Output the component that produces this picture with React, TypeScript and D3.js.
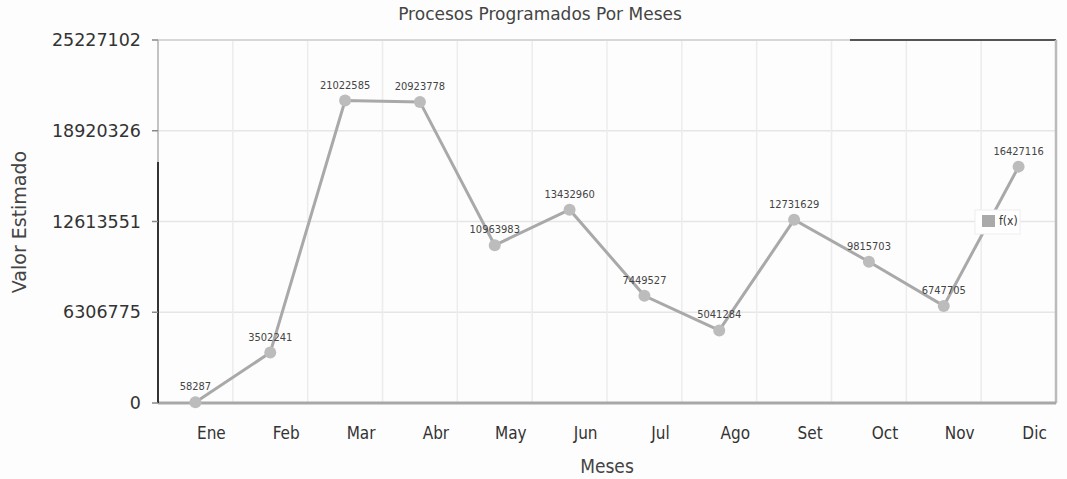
import React from "react";
import * as d3 from "d3";

const months = ["Ene", "Feb", "Mar", "Abr", "May", "Jun", "Jul", "Ago", "Set", "Oct", "Nov", "Dic"];
const values = [58287, 3502241, 21022585, 20923778, 10963983, 13432960, 7449527, 5041284, 12731629, 9815703, 6747705, 16427116];
const yTicks = [0, 6306775, 12613551, 18920326, 25227102];
const title = "Procesos Programados Por Meses";
const yTitle = "Valor Estimado";
const xTitle = "Meses";
const seriesName = "f(x)";

const W = 1067, H = 479;
const M = { left: 158, right: 1056, top: 40, bottom: 403 };

export default function App() {
  const x = d3.scaleBand<string>().domain(months).range([M.left, M.right]);
  const y = d3.scaleLinear().domain([0, 25227102]).range([M.bottom, M.top]);
  const cx = (m: string) => (x(m) as number) + x.bandwidth() / 2;
  const line = d3.line<number>().x((_, i) => cx(months[i])).y((d) => y(d));
  const font = "'DejaVu Sans Condensed', 'DejaVu Sans', sans-serif";
  const wide = "'DejaVu Sans', sans-serif";

  return (
    <svg width={W} height={H} style={{ position: "absolute", left: 0, top: 0, background: "#fff" }} fontFamily={font}>
      <rect x={0} y={0} width={W} height={H} fill="#fdfdfd" />
      {/* grid */}
      {yTicks.map((t) => (
        <line key={"h" + t} x1={M.left} x2={M.right} y1={y(t)} y2={y(t)} stroke="#e6e6e6" strokeWidth={1.5} />
      ))}
      {months.slice(1).map((m) => (
        <line key={"v" + m} x1={x(m) as number} x2={x(m) as number} y1={M.top} y2={M.bottom} stroke="#ececec" strokeWidth={1.5} />
      ))}
      {/* border */}
      <rect x={M.left} y={M.top} width={M.right - M.left} height={M.bottom - M.top} fill="none" stroke="#d0d0d0" strokeWidth={1.5} />
      <line x1={850} x2={M.right} y1={M.top} y2={M.top} stroke="#555" strokeWidth={2} />
      <line x1={M.right} x2={M.right} y1={M.top} y2={M.bottom} stroke="#bbb" strokeWidth={2.5} />
      {/* axes */}
      <line x1={M.left} x2={M.right} y1={M.bottom} y2={M.bottom} stroke="#a8a8a8" strokeWidth={3} />
      <line x1={M.left} x2={M.left} y1={M.top} y2={M.bottom} stroke="#bbb" strokeWidth={1.5} />
      <line x1={M.left} x2={M.left} y1={162} y2={M.bottom} stroke="#333" strokeWidth={2} />
      {yTicks.map((t) => (
        <g key={"yt" + t}>
          <line x1={M.left - 6} x2={M.left} y1={y(t)} y2={y(t)} stroke="#888" strokeWidth={1.5} />
          <text x={M.left - 17} y={y(t)} dy="0.35em" textAnchor="end" fontSize={17.5} fontFamily={wide} fill="#333">
            {t}
          </text>
        </g>
      ))}
      {months.map((m) => (
        <text key={"xt" + m} x={cx(m) + 16} y={439} textAnchor="middle" fontSize={17} fill="#333">
          {m}
        </text>
      ))}
      {/* titles */}
      <text x={540} y={20} textAnchor="middle" fontSize={17} fontFamily={wide} fill="#444">{title}</text>
      <text x={607} y={473} textAnchor="middle" fontSize={19} fill="#444">{xTitle}</text>
      <text transform={`translate(26,222) rotate(-90)`} textAnchor="middle" fontSize={19} fontFamily={wide} fill="#444">{yTitle}</text>
      {/* series */}
      <path d={line(values) || ""} fill="none" stroke="#a9a9a9" strokeWidth={3} />
      {values.map((v, i) => (
        <circle key={"p" + i} cx={cx(months[i])} cy={y(v)} r={6} fill="#bcbcbc" />
      ))}
      {values.map((v, i) => (
        <text key={"l" + i} x={cx(months[i])} y={y(v) - 12} textAnchor="middle" fontSize={11} fill="#444">
          {v}
        </text>
      ))}
      {/* legend */}
      <rect x={975} y={210} width={45} height={24} fill="#fff" stroke="#eee" />
      <rect x={982} y={215} width={13} height={12} fill="#aaa" />
      <text x={999} y={225} fontSize={12} fill="#333">{seriesName}</text>
    </svg>
  );
}
